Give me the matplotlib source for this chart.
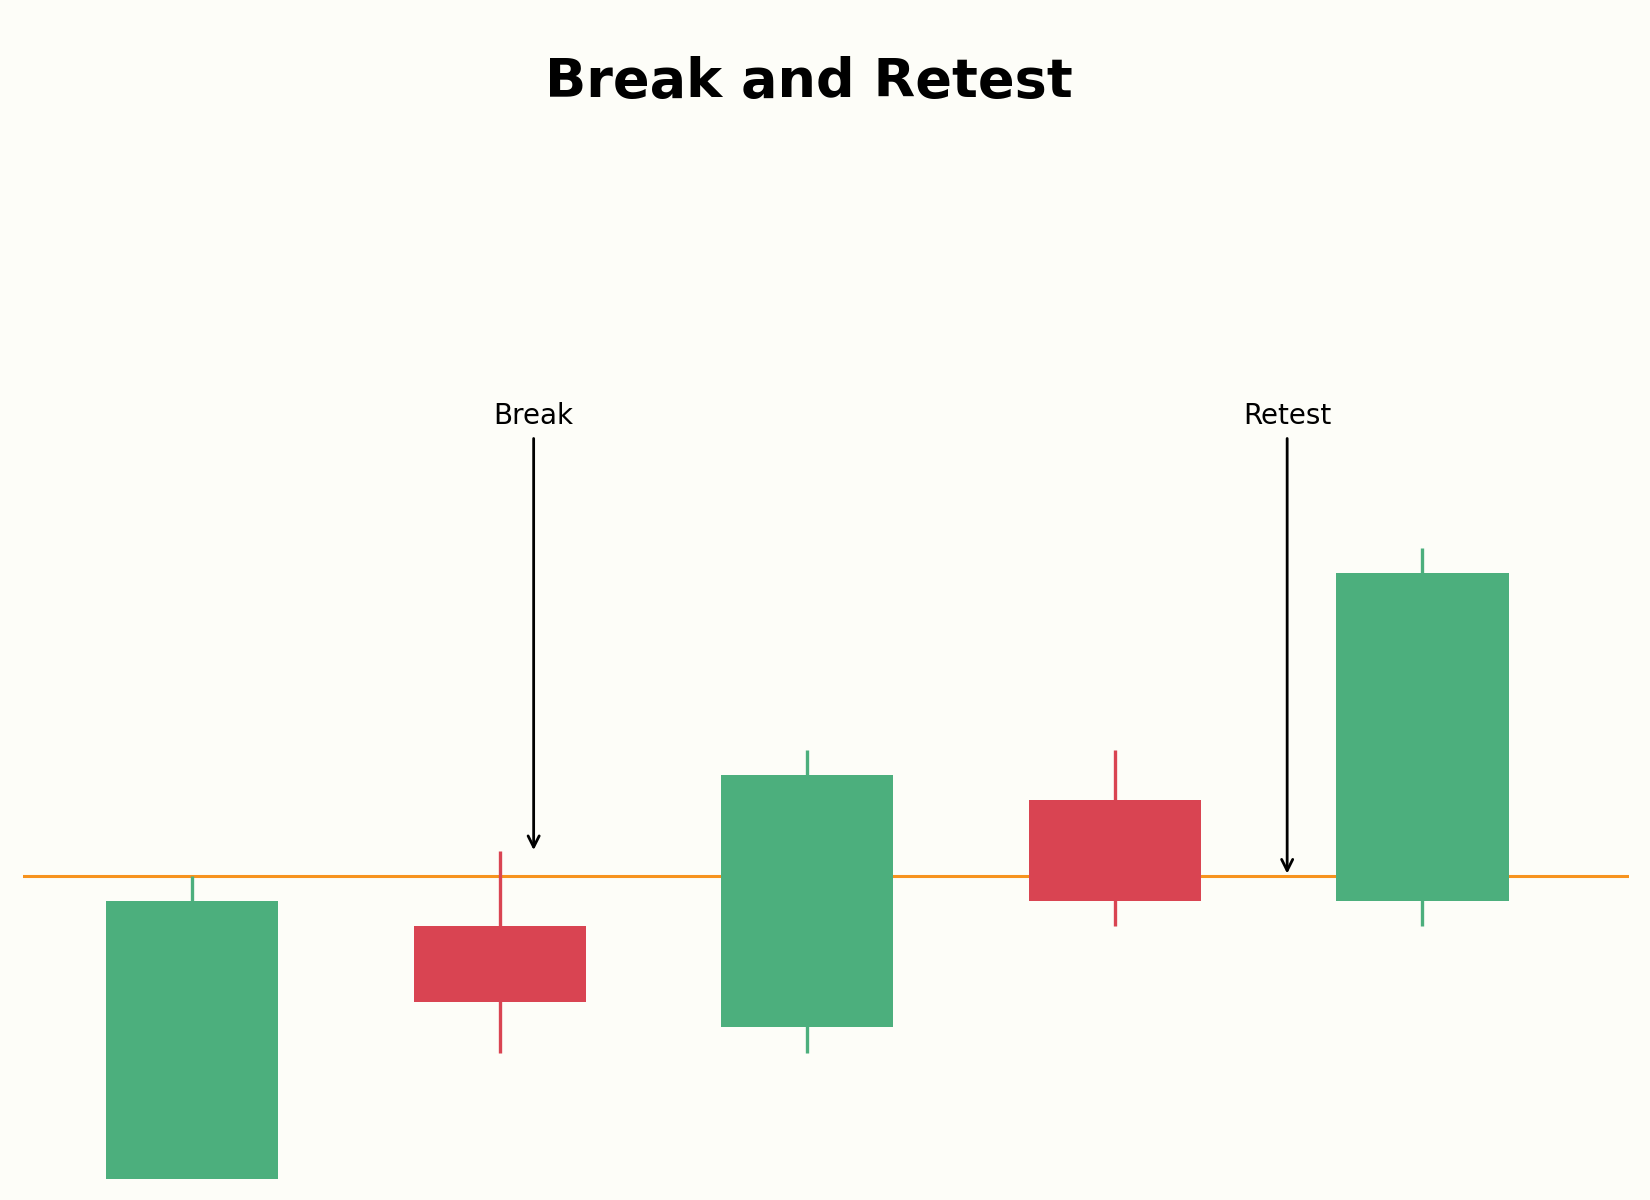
import numpy as np
import matplotlib
matplotlib.use("Agg")
import matplotlib.pyplot as plt

# candle data
xs = [0, 1, 2, 3, 4]
opens = [88, 98, 94, 103, 99]
closes = [99, 95, 104, 99, 112]
highs = [100, 101, 105, 105, 113]
lows = [88, 93, 93, 98, 98]
level = 100

notes = ["Break", "Retest"]
note_x = [1.11, 3.56]
note_y = [100.8, 99.87]
text_y = 118.2

green = "#4caf7d"
red = "#d94452"
orange = "#f7931e"
bg = "#fdfdf8"

fig = plt.figure(figsize=(8.25, 6), dpi=200, facecolor=bg)
ax = fig.add_axes([0.014, 0.0175, 0.973, 0.842])
ax.set_facecolor(bg)

ax.axhline(level, color=orange, lw=1.1, zorder=1)

for x, o, c, h, l in zip(xs, opens, closes, highs, lows):
    col = green if c >= o else red
    ax.vlines(x, l, h, color=col, lw=1.2, zorder=2)
    ax.bar(x, abs(c - o), bottom=min(o, c), width=0.56, color=col, zorder=3)

for name, x, y in zip(notes, note_x, note_y):
    ax.annotate(name, xy=(x, y), xytext=(x, text_y), ha="center", va="center",
                fontsize=10, arrowprops=dict(arrowstyle="->", color="black", lw=1, shrinkA=1))

ax.set_xlim(-0.55, 4.67)
ax.set_ylim(88, 128)
ax.axis("off")
fig.suptitle("Break and Retest", fontsize=19.5, fontweight="bold", x=0.49, y=0.953)

plt.savefig("out.png", dpi=200, facecolor=bg)
